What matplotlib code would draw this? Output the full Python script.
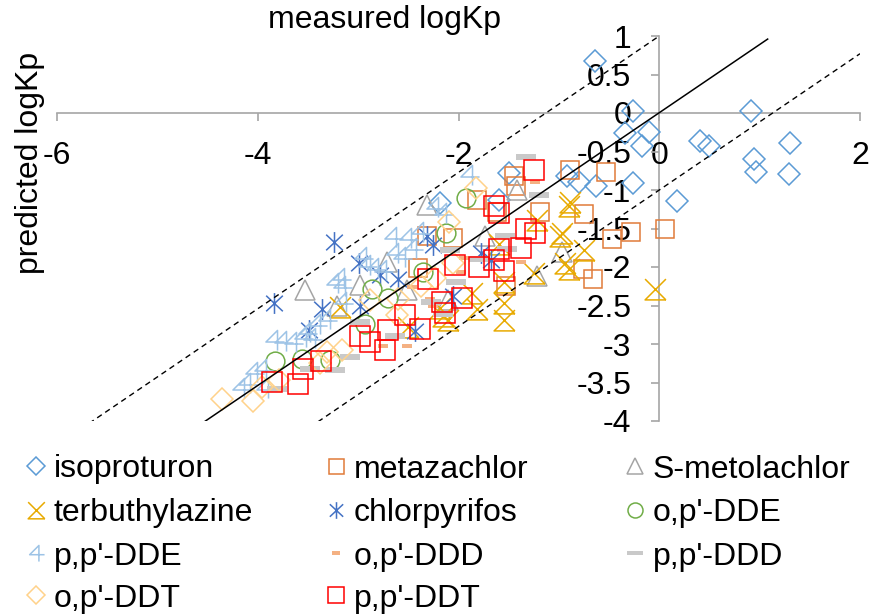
import matplotlib
matplotlib.use('Agg')
import matplotlib.pyplot as plt
from matplotlib.path import Path
from matplotlib.lines import Line2D

plt.rcParams['font.family'] = ['Liberation Sans', 'DejaVu Sans']

# measured (x) vs predicted (y) logKp
iso_x = [-0.64, -0.26, 0.91, -0.34, -0.10, -0.17, 0.41, 0.50, 1.30, 0.94, 0.96, 1.29,
         -0.26, 0.18, -0.63, -0.80, -0.92, -1.50, -2.18, -1.60]
iso_y = [0.68, 0.03, 0.02, -0.26, -0.25, -0.43, -0.37, -0.43, -0.39, -0.60, -0.76, -0.79,
         -0.91, -1.14, -0.95, -0.89, -0.82, -0.78, -1.17, -1.13]

meta_x = [-0.89, -0.53, -1.45, -1.43, -1.82, -1.62, -1.19, -0.75, -0.28, 0.06, -0.47,
          -2.05, -2.31, -2.40, -0.76, -0.66, -1.53]
meta_y = [-0.74, -0.76, -0.82, -0.95, -1.13, -1.28, -1.28, -1.31, -1.55, -1.50, -1.64,
          -1.62, -1.60, -2.01, -2.02, -2.16, -2.25]

smet_x = [-3.53, -3.21, -2.31, -2.98, -2.71, -2.51, -2.10, -1.42, -1.74, -0.97, -1.22]
smet_y = [-2.30, -2.50, -1.19, -2.24, -1.93, -2.30, -2.43, -1.00, -1.60, -1.80, -2.12]

terb_x = [-0.90, -0.89, -0.97, -0.75, -0.94, -0.90, -0.04, -1.22, -0.99, -1.25, -1.55,
          -1.55, -1.55, -1.87, -1.82, -2.15, -3.18, -2.50, -2.10, -2.18, -1.60]
terb_y = [-1.21, -1.15, -1.56, -1.78, -1.95, -2.02, -2.28, -1.39, -1.60, -2.08, -2.19,
          -2.47, -2.69, -2.34, -2.54, -2.64, -2.52, -2.78, -2.69, -2.53, -1.70]

chlor_x = [-3.84, -3.36, -3.49, -3.24, -2.99, -2.78, -2.60, -2.31, -2.25, -2.98, -2.43,
           -1.78, -2.05, -1.68]
chlor_y = [-2.47, -2.54, -2.82, -1.68, -1.95, -2.10, -2.15, -1.60, -1.71, -2.51, -2.83,
           -1.82, -2.38, -1.91]

opdde_x = [-3.83, -3.56, -3.28, -2.93, -2.86, -2.70, -2.35, -2.12, -1.93]
opdde_y = [-3.22, -3.20, -3.21, -2.74, -2.28, -2.40, -2.06, -1.56, -1.11]

ppdde_x = [-4.17, -4.11, -4.04, -3.95, -3.93, -3.84, -3.75, -3.65, -3.55, -3.46, -3.51,
           -3.41, -3.31, -3.23, -3.16, -3.15, -3.17, -2.95, -2.91, -2.83, -2.75, -2.65,
           -2.63, -2.56, -2.50, -2.45, -2.38, -2.23, -2.15, -1.90]
ppdde_y = [-3.57, -3.51, -3.36, -3.33, -3.57, -2.95, -2.96, -2.97, -2.91, -2.92, -2.84,
           -2.74, -2.67, -2.21, -2.25, -2.45, -2.14, -1.87, -1.97, -2.01, -2.04, -1.61,
           -1.82, -1.87, -1.62, -1.75, -1.54, -1.22, -1.30, -0.80]

opddd_x = [-1.24, -2.46, -2.28, -2.51, -2.75, -2.25, -1.95, -1.38, -1.98]
opddd_y = [-0.90, -2.26, -2.41, -3.03, -3.03, -2.51, -1.88, -1.93, -2.06]

ppddd_x = [-1.33, -1.20, -1.54, -1.52, -2.08, -1.80, -2.02, -2.27, -2.15, -2.63, -2.98,
           -3.08, -3.23, -3.48, -3.81]
ppddd_y = [-0.57, -1.06, -1.60, -1.76, -1.78, -1.89, -2.19, -2.46, -2.61, -2.90, -2.72,
           -3.17, -3.34, -3.32, -3.58]

opddt_x = [-4.36, -4.05, -3.96, -3.79, -3.38, -3.16, -3.31, -2.88, -2.09, -2.37, -2.60,
           -1.83, -2.23, -2.61, -2.05]
opddt_y = [-3.71, -3.74, -3.56, -3.47, -3.25, -3.08, -3.10, -2.43, -1.42, -2.25, -2.41,
           -0.98, -2.14, -2.62, -1.95]

ppddt_x = [-3.86, -3.60, -3.55, -3.37, -2.98, -2.88, -2.73, -2.70, -2.53, -2.38, -2.30,
           -2.16, -2.13, -1.97, -2.03, -1.80, -1.65, -1.60, -1.55, -1.38, -1.33, -1.24,
           -1.65, -1.60, -1.25]
ppddt_y = [-3.49, -3.52, -3.33, -3.22, -2.90, -2.97, -3.08, -2.82, -2.62, -2.80, -2.15,
           -2.45, -2.60, -2.40, -1.97, -2.00, -1.91, -1.76, -2.05, -1.75, -1.50, -1.56,
           -1.21, -1.30, -0.74]

# 1:1-type line and the +/-1 band
fit_x = [-4.6, 1.08]
fit_y = [-4.07, 0.96]
upper_x = [-5.68, 0.0]
upper_y = [-4.03, 1.0]
lower_x = [-3.4, 2.0]
lower_y = [-4.01, 0.77]

x_ticks = [-6, -4, -2, 0, 2]
y_ticks = [1, 0.5, 0, -0.5, -1, -1.5, -2, -2.5, -3, -3.5, -4]
y_tick_labels = ['1', '0.5', '0', '-0.5', '-1', '-1.5', '-2', '-2.5', '-3', '-3.5', '-4']

# custom marker shapes
M, L, C = Path.MOVETO, Path.LINETO, Path.CLOSEPOLY
hourglass = Path([(-1, 1), (1, -1), (1, 1), (-1, -1), (1, -1)], [M, L, M, L, L])
four = Path([(0.3, -1), (0.3, 1), (-0.85, -0.15), (1, -0.15)], [M, L, L, L])
star = Path([(0, -1), (0, 1), (-0.8, -0.75), (0.8, 0.75), (-0.8, 0.75), (0.8, -0.75)],
            [M, L, M, L, M, L])
bar = Path([(-1, -0.25), (1, -0.25), (1, 0.25), (-1, 0.25), (-1, -0.25)], [M, L, L, L, C])
small_bar = Path([(-1, -0.45), (1, -0.45), (1, 0.45), (-1, 0.45), (-1, -0.45)], [M, L, L, L, C])


def hollow(marker, color, size):
    return dict(marker=marker, markersize=size, markerfacecolor='none',
                markeredgecolor=color, markeredgewidth=1.1)


def solid(marker, color, size):
    return dict(marker=marker, markersize=size, markerfacecolor=color,
                markeredgecolor='none', markeredgewidth=0)


series = [
    ('isoproturon', iso_x, iso_y, hollow('D', '#5B9BD5', 11)),
    ('metazachlor', meta_x, meta_y, hollow('s', '#E07B39', 13.5)),
    ('S-metolachlor', smet_x, smet_y, hollow('^', '#A5A5A5', 15)),
    ('terbuthylazine', terb_x, terb_y, hollow(hourglass, '#E8AA00', 15)),
    ('chlorpyrifos', chlor_x, chlor_y, hollow(star, '#4472C4', 15)),
    ("o,p'-DDE", opdde_x, opdde_y, hollow('o', '#70AD47', 13.5)),
    ("p,p'-DDE", ppdde_x, ppdde_y, hollow(four, '#9DC3E6', 14.5)),
    ("o,p'-DDD", opddd_x, opddd_y, solid(small_bar, '#F4B183', 7.5)),
    ("p,p'-DDD", ppddd_x, ppddd_y, solid(bar, '#C9C9C9', 14.5)),
    ("o,p'-DDT", opddt_x, opddt_y, hollow('D', '#FFD28A', 11)),
    ("p,p'-DDT", ppddt_x, ppddt_y, hollow('s', '#FF0000', 14)),
]

W, H = 869, 614
fig = plt.figure(figsize=(W / 100, H / 100), dpi=100)
ax = fig.add_axes([57 / W, 1 - 421 / H, 803 / W, 385 / H])

for name, xs, ys, st in series:
    ax.plot(xs, ys, linestyle='none', **st)

ax.plot(fit_x, fit_y, color='black', lw=1.1)
ax.plot(upper_x, upper_y, color='black', lw=1.0, linestyle=(0, (4, 3)))
ax.plot(lower_x, lower_y, color='black', lw=1.0, linestyle=(0, (4, 3)))

ax.set_xlim(-6, 2)
ax.set_ylim(-4, 1)
ax.spines['top'].set_visible(False)
ax.spines['right'].set_visible(False)
ax.spines['left'].set_position(('data', 0))
ax.spines['bottom'].set_position(('data', 0))
for s in ['left', 'bottom']:
    ax.spines[s].set_color('#A6A6A6')
    ax.spines[s].set_linewidth(1.2)
    ax.spines[s].set_zorder(0.5)
ax.set_xticks(x_ticks)
ax.set_xticklabels([str(t) for t in x_ticks])
ax.set_yticks(y_ticks)
ax.set_yticklabels(y_tick_labels)
ax.tick_params(direction='out', length=6, width=1.2, color='#A6A6A6', labelsize=23, pad=14)
ax.patch.set_visible(False)

fig.text(385 / W, 1 - 20 / H, 'measured logKp', ha='center', va='center', fontsize=23)
fig.text(30 / W, 1 - 163 / H, 'predicted logKp', rotation=90, ha='center', va='center', fontsize=23)

# legend, 3 columns filled row by row like the original
col_x = [36, 336, 635]
row_y = [466, 510, 553, 595]
for i, (name, xs, ys, st) in enumerate(series):
    r, c = divmod(i, 3)
    x = col_x[c] / W
    y = 1 - row_y[r] / H
    lst = dict(st)
    lst['markersize'] = st['markersize'] * 0.8
    fig.add_artist(Line2D([x], [y], transform=fig.transFigure, linestyle='none', **lst))
    fig.text((col_x[c] + 18) / W, y, name, ha='left', va='center_baseline', fontsize=23)

fig.savefig('out.png', dpi=100)
